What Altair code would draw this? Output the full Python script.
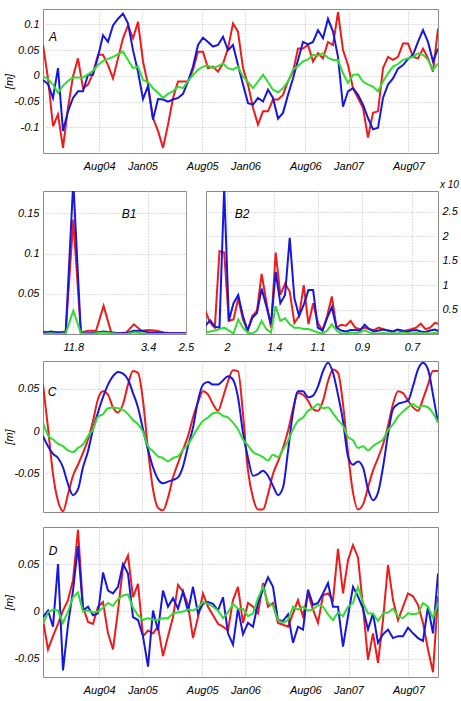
import altair as alt
import pandas as pd

# ---------------- data ----------------
# sampling grid of the time series (about 17.7 days)
TIME = [t.strftime("%Y-%m-%dT%H:%M:%S") for t in
        pd.date_range("2004-01-15", periods=80, freq=pd.Timedelta(hours=425))]
TICK_MONTHS = [(2004, 8), (2005, 1), (2005, 8), (2006, 1), (2006, 8), (2007, 1), (2007, 8)]

A_RED = [0.060, -0.005, -0.098, -0.075, -0.140, -0.062, -0.001, 0.034, -0.024, -0.017,
         0.005, 0.041, 0.041, 0.021, -0.005, 0.034, 0.073, 0.098, 0.073, 0.105,
         0.028, -0.017, -0.082, -0.107, -0.140, -0.095, -0.043, -0.011, -0.011, -0.011,
         0.012, 0.047, 0.047, 0.015, 0.018, 0.008, 0.024, 0.053, 0.102, 0.086,
         0.015, -0.017, -0.062, -0.095, -0.069, -0.069, -0.046, -0.046, -0.037, -0.011,
         0.008, 0.053, 0.053, 0.060, 0.028, 0.044, 0.034, 0.066, 0.060, 0.124,
         0.050, 0.021, -0.024, -0.043, -0.062, -0.120, -0.072, -0.069, 0.015, 0.037,
         0.031, 0.037, 0.063, 0.063, 0.037, 0.034, 0.053, 0.034, 0.008, 0.092]
A_BLUE = [-0.008, -0.016, -0.043, 0.015, -0.107, -0.069, -0.043, -0.030, -0.030, 0.002,
          0.002, 0.037, 0.079, 0.066, 0.098, 0.111, 0.121, 0.102, 0.050, 0.008,
          -0.045, -0.020, -0.085, -0.045, -0.046, -0.050, -0.046, -0.043, -0.035, -0.011,
          0.018, 0.060, 0.074, 0.066, 0.057, 0.060, 0.076, 0.050, 0.060, 0.021,
          -0.017, -0.053, -0.056, -0.043, -0.050, -0.027, -0.043, -0.083, -0.072, -0.037,
          -0.005, 0.031, 0.066, 0.061, 0.066, 0.089, 0.073, 0.111, 0.086, 0.037,
          -0.060, -0.030, -0.024, -0.037, -0.056, -0.082, -0.104, -0.101, -0.043, -0.017,
          -0.005, 0.014, 0.021, 0.033, 0.041, 0.066, 0.089, 0.066, 0.028, 0.053]
A_GREEN = [-0.001, -0.006, -0.017, -0.033, -0.019, -0.010, -0.003, -0.003, -0.003, 0.003,
           0.010, 0.021, 0.029, 0.033, 0.037, 0.042, 0.047, 0.031, 0.015, 0.018,
           -0.008, -0.012, -0.024, -0.033, -0.043, -0.035, -0.030, -0.021, -0.024, -0.010,
           0.002, 0.012, 0.018, 0.020, 0.015, 0.019, 0.024, 0.015, 0.012, 0.018,
           -0.001, -0.012, -0.024, -0.011, 0.002, -0.012, -0.027, -0.032, -0.024, -0.011,
           0.012, 0.019, 0.028, 0.032, 0.041, 0.039, 0.044, 0.035, 0.031, 0.031,
           0.005, -0.014, 0.002, 0.003, -0.011, -0.017, -0.021, -0.030, -0.011, 0.005,
           0.018, 0.023, 0.031, 0.034, 0.037, 0.044, 0.041, 0.031, 0.012, 0.024]

C_RED = [0.055, 0.004, -0.051, -0.083, -0.095, -0.075, -0.053, -0.040, -0.026, -0.010,
         0.012, 0.038, 0.047, 0.043, 0.028, 0.022, 0.032, 0.055, 0.071, 0.069,
         0.036, -0.022, -0.069, -0.091, -0.094, -0.079, -0.055, -0.038, -0.022, -0.006,
         0.016, 0.034, 0.047, 0.043, 0.032, 0.024, 0.040, 0.059, 0.072, 0.071,
         0.020, -0.047, -0.079, -0.093, -0.093, -0.075, -0.051, -0.036, -0.020, 0.000,
         0.026, 0.045, 0.043, 0.036, 0.026, 0.024, 0.036, 0.059, 0.073, 0.069,
         0.032, -0.026, -0.073, -0.093, -0.087, -0.067, -0.047, -0.032, -0.016, 0.006,
         0.032, 0.047, 0.045, 0.036, 0.028, 0.024, 0.038, 0.055, 0.071, 0.071]
C_BLUE = [-0.006, -0.018, -0.027, -0.032, -0.043, -0.063, -0.076, -0.069, -0.043, -0.024,
          0.002, 0.022, 0.040, 0.055, 0.065, 0.070, 0.068, 0.061, 0.045, 0.028,
          0.002, -0.022, -0.043, -0.057, -0.062, -0.060, -0.058, -0.055, -0.042, -0.018,
          0.004, 0.036, 0.055, 0.058, 0.055, 0.055, 0.060, 0.065, 0.061, 0.040,
          -0.002, -0.032, -0.053, -0.051, -0.047, -0.053, -0.065, -0.076, -0.067, -0.024,
          0.022, 0.047, 0.047, 0.040, 0.042, 0.053, 0.071, 0.081, 0.069, 0.043,
          0.012, -0.030, -0.040, -0.036, -0.043, -0.069, -0.082, -0.073, -0.043, -0.004,
          0.026, 0.032, 0.034, 0.036, 0.053, 0.073, 0.081, 0.073, 0.043, 0.010]
C_GREEN = [0.010, -0.005, -0.010, -0.015, -0.018, -0.023, -0.025, -0.020, -0.016, -0.006,
           0.002, 0.017, 0.020, 0.027, 0.028, 0.027, 0.025, 0.020, 0.013, 0.008,
           -0.001, -0.018, -0.024, -0.030, -0.032, -0.036, -0.032, -0.030, -0.022, -0.016,
           -0.006, 0.004, 0.012, 0.016, 0.021, 0.022, 0.018, 0.016, 0.010, 0.002,
           -0.010, -0.017, -0.025, -0.028, -0.031, -0.035, -0.028, -0.031, -0.022, -0.012,
           0.002, 0.012, 0.016, 0.024, 0.027, 0.032, 0.027, 0.028, 0.021, 0.013,
           0.006, -0.007, -0.011, -0.020, -0.018, -0.023, -0.018, -0.014, -0.010, 0.001,
           0.008, 0.017, 0.023, 0.028, 0.032, 0.028, 0.030, 0.028, 0.021, 0.010]

D_RED = [-0.009, -0.040, -0.026, -0.013, 0.001, 0.012, 0.033, 0.086, 0.005, -0.011,
         -0.013, 0.005, 0.010, -0.023, -0.040, 0.001, 0.047, 0.059, 0.015, 0.029,
         -0.026, -0.020, -0.023, -0.016, -0.047, -0.026, -0.006, 0.028, 0.021, 0.007,
         -0.028, -0.006, 0.019, 0.005, -0.004, -0.013, -0.016, -0.020, 0.012, 0.026,
         -0.012, 0.009, 0.005, -0.002, 0.030, 0.005, 0.009, -0.012, -0.014, -0.016,
         -0.002, 0.012, -0.005, 0.019, 0.002, -0.012, 0.017, 0.019, 0.012, 0.066,
         0.019, 0.054, 0.070, 0.057, 0.005, -0.051, -0.023, -0.054, -0.009, 0.049,
         0.012, -0.009, 0.005, 0.019, 0.016, 0.007, -0.012, -0.040, -0.064, 0.016]
D_BLUE = [-0.006, 0.001, -0.016, 0.050, -0.062, -0.014, 0.022, 0.069, 0.001, 0.005,
          -0.004, -0.002, 0.041, 0.022, 0.019, 0.026, 0.050, 0.040, -0.006, -0.009,
          -0.026, -0.058, 0.001, -0.020, 0.022, 0.005, 0.014, 0.003, 0.021, 0.000,
          0.026, -0.002, 0.008, 0.010, 0.008, 0.001, 0.015, -0.023, -0.035, 0.003,
          -0.024, -0.012, -0.016, 0.009, 0.023, 0.036, 0.026, -0.009, -0.010, -0.003,
          -0.033, -0.016, -0.019, 0.023, 0.007, 0.009, 0.019, 0.030, 0.005, 0.005,
          -0.037, -0.005, 0.026, 0.016, 0.003, -0.019, -0.002, -0.033, -0.024, -0.019,
          -0.028, -0.026, -0.026, -0.017, -0.023, -0.028, -0.031, 0.005, -0.023, 0.040]
D_GREEN = [-0.013, -0.001, 0.002, 0.001, -0.012, 0.000, 0.015, 0.020, 0.000, 0.001,
           -0.001, 0.000, 0.004, 0.009, 0.006, 0.013, 0.017, 0.018, 0.004, -0.004,
           -0.009, -0.007, -0.009, -0.009, -0.007, -0.007, -0.002, -0.001, 0.000, 0.002,
           0.001, 0.004, 0.010, 0.008, 0.005, 0.001, -0.007, -0.001, 0.008, 0.003,
           0.003, -0.005, -0.002, 0.014, 0.026, 0.009, 0.006, -0.009, -0.012, -0.009,
           0.005, 0.002, 0.005, 0.001, 0.002, 0.007, 0.005, -0.003, -0.009, -0.001,
           -0.005, 0.005, 0.009, 0.026, 0.009, -0.002, -0.002, -0.010, -0.002, -0.001,
           0.003, -0.005, -0.007, -0.002, -0.003, -0.002, 0.009, 0.005, -0.007, 0.009]

# spectra: frequency grid (cycles per month), labels are periods (months)
FREQ_B1 = [k / 47.2 for k in range(0, 20)]
FREQ_B2 = [k / 47.2 for k in range(19, 70)]
B1_RED = [0.003, 0.002, 0.002, 0.003, 0.142, 0.002, 0.004, 0.004, 0.035, 0.002,
          0.001, 0.002, 0.012, 0.004, 0.005, 0.004, 0.002, 0.001, 0.001, 0.001]
B1_BLUE = [0.001, 0.003, 0.002, 0.002, 0.190, 0.001, 0.001, 0.002, 0.003, 0.002,
           0.001, 0.001, 0.004, 0.004, 0.002, 0.002, 0.001, 0.001, 0.001, 0.001]
B1_GREEN = [0.000, 0.001, 0.000, 0.001, 0.029, 0.001, 0.000, 0.001, 0.002, 0.001,
            0.000, 0.000, 0.002, 0.001, 0.000, 0.000, 0.000, 0.000, 0.000, 0.000]
# B2 values in units of 1e-3
B2_RED = [0.47, 0.23, 0.13, 1.70, 1.67, 0.27, 0.30, 0.73, 0.30, 0.07, 0.37, 0.47, 1.23,
          0.67, 0.13, 1.67, 0.80, 1.03, 0.87, 0.23, 0.37, 1.00, 0.20, 0.63, 0.23, 0.07,
          0.37, 0.77, 0.13, 0.19, 0.17, 0.27, 0.13, 0.10, 0.13, 0.10, 0.08, 0.13, 0.10,
          0.07, 0.05, 0.08, 0.05, 0.08, 0.10, 0.13, 0.21, 0.10, 0.13, 0.23, 0.20]
B2_BLUE = [0.17, 0.28, 0.15, 0.13, 3.00, 0.27, 0.63, 0.80, 0.37, 0.07, 0.33, 0.43, 0.93,
           0.57, 0.20, 1.27, 0.63, 0.80, 1.97, 0.73, 0.37, 0.60, 0.90, 0.90, 0.13, 0.07,
           0.33, 0.55, 0.13, 0.07, 0.05, 0.08, 0.08, 0.07, 0.19, 0.10, 0.05, 0.07, 0.09,
           0.07, 0.05, 0.09, 0.07, 0.04, 0.07, 0.08, 0.05, 0.04, 0.07, 0.09, 0.05]
B2_GREEN = [0.03, 0.05, 0.07, 0.10, 0.13, 0.07, 0.01, 0.30, 0.13, 0.03, 0.01, 0.07, 0.27,
            0.10, 0.03, 0.57, 0.27, 0.32, 0.20, 0.13, 0.13, 0.10, 0.10, 0.07, 0.03, 0.01,
            0.07, 0.20, 0.07, 0.01, 0.01, 0.03, 0.02, 0.03, 0.08, 0.03, 0.01, 0.01, 0.02,
            0.01, 0.02, 0.01, 0.03, 0.02, 0.01, 0.02, 0.01, 0.02, 0.01, 0.02, 0.01]
B1_TICK_PERIODS = [11.8, 3.4, 2.5]
B2_TICK_FREQ = [0.5, 0.714, 0.91, 1.111, 1.337]
B2_TICK_LABELS = ["2", "1.4", "1.1", "0.9", "0.7"]

COLORS = {"red": "#ee1b1b", "blue": "#1717e0", "green": "#30dd30"}
FONT = "Liberation Sans"
W = 395
TITLE_X = -34

# ---------------- helpers ----------------
def lines(xs, series, x_enc, y_enc, interp="linear"):
    layers = []
    for name, vals in series:
        df = pd.DataFrame({"x": xs, "v": vals})
        layers.append(alt.Chart(df).mark_line(color=COLORS[name], strokeWidth=2,
                                              clip=True, interpolate=interp)
                      .encode(x=x_enc, y=y_enc))
    return layers


def label(text, x, y, size=12, align="center", baseline="middle"):
    return alt.Chart(pd.DataFrame({"txt": [text]})).mark_text(
        font=FONT, fontStyle="italic", fontSize=size, align=align, baseline=baseline,
        color="black").encode(text="txt:N", x=alt.value(x), y=alt.value(y))


def y_title_kw(title, h):
    return dict(title=title, titleX=TITLE_X, titleY=h / 2, titleAngle=270,
                titleAlign="center", titleBaseline="middle", titleFont=FONT,
                titleFontStyle="italic", titleFontWeight="normal", titleFontSize=11)


def time_panel(red, blue, green, ydom, yticks, h, show_labels, letter, lpos, interp="linear"):
    x_enc = alt.X("x:T", axis=alt.Axis(
        values=[alt.DateTime(year=y, month=m, date=1) for y, m in TICK_MONTHS],
        format="%b%y", labels=show_labels, title=None, labelFlush=False,
        labelPadding=7))
    y_enc = alt.Y("v:Q", scale=alt.Scale(domain=ydom, nice=False, zero=False),
                  axis=alt.Axis(values=yticks, labelExpr="datum.value + ''",
                                labelFlush=False, **y_title_kw("[m]", h)))
    layers = lines(TIME, [("red", red), ("blue", blue), ("green", green)], x_enc, y_enc, interp)
    layers.append(label(letter, lpos[0], lpos[1]))
    return alt.layer(*layers).properties(width=W, height=h)


# ---------------- panels ----------------
A = time_panel(A_RED, A_BLUE, A_GREEN, [-0.15, 0.13], [-0.1, -0.05, 0, 0.05, 0.1],
               144, True, "A", (10, 28))
C = time_panel(C_RED, C_BLUE, C_GREEN, [-0.096, 0.083], [-0.05, 0, 0.05],
               151, False, "C", (9, 31), interp="monotone")
D = time_panel(D_RED, D_BLUE, D_GREEN, [-0.069, 0.089], [-0.05, 0, 0.05],
               150, True, "D", (10, 24))

b1_x = alt.X("x:Q", scale=alt.Scale(domain=[0, 0.4], nice=False, zero=False),
             axis=alt.Axis(values=[1 / p for p in B1_TICK_PERIODS],
                           labelExpr="format(1/datum.value, '.1f')", title=None,
                           labelFlush=False, labelPadding=7))
b1_y = alt.Y("v:Q", scale=alt.Scale(domain=[0, 0.178], nice=False),
             axis=alt.Axis(values=[0.05, 0.1, 0.15], labelExpr="datum.value + ''",
                           labelFlush=False, **y_title_kw(" ", 143)))
B1 = alt.layer(*lines(FREQ_B1, [("red", B1_RED), ("blue", B1_BLUE), ("green", B1_GREEN)],
                      b1_x, b1_y),
               label("B1", 86, 23)).properties(width=143, height=143)

b2_labels = "[" + ",".join("'%s'" % s for s in B2_TICK_LABELS) + "]"
b2_vals = "[" + ",".join(repr(v) for v in B2_TICK_FREQ) + "]"
b2_x = alt.X("x:Q", scale=alt.Scale(domain=[0.405, 1.455], nice=False, zero=False),
             axis=alt.Axis(values=B2_TICK_FREQ,
                           labelExpr=b2_labels + "[indexof(" + b2_vals + ", datum.value)]",
                           title=None, labelFlush=False, labelPadding=7))
b2_y = alt.Y("v:Q", scale=alt.Scale(domain=[0, 2.93], nice=False),
             axis=alt.Axis(values=[0.5, 1, 1.5, 2, 2.5], labelExpr="datum.value + ''",
                           orient="right", title=None, labelFlush=False))
B2 = alt.layer(*lines(FREQ_B2, [("red", B2_RED), ("blue", B2_BLUE), ("green", B2_GREEN)],
                      b2_x, b2_y),
               label("B2", 36, 23),
               label("x 10", 234, -3, size=10, align="left", baseline="alphabetic")
               ).properties(width=232, height=143)

brow = alt.hconcat(B1, B2, spacing=20, bounds="flush")
top_part = alt.vconcat(A, brow, spacing=7)
bottom_part = alt.vconcat(C, D, spacing=15, bounds="flush")
chart = alt.vconcat(top_part, bottom_part, spacing=7).properties(
    padding={"left": 2, "top": 8, "right": 0, "bottom": 0},
    background="white",
).configure_view(
    stroke="#8a8a8a", strokeWidth=1
).configure_axis(
    labelFont=FONT, labelFontStyle="italic", labelFontSize=11, labelColor="black",
    ticks=False, domain=False, grid=True, gridColor="#bcbcbc", gridDash=[1, 2],
    gridWidth=1, labelPadding=4
)

chart.save("out.html", embed_options={"renderer": "svg", "actions": False})
